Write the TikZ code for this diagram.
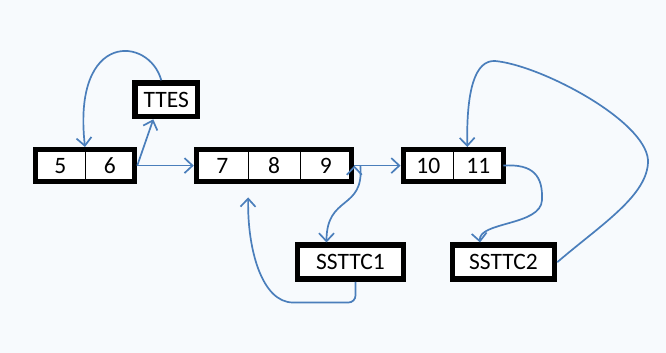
\documentclass[tikz,border=0pt]{standalone}
\usepackage{fontspec}
\setmainfont{Carlito}
\usetikzlibrary{positioning,fit,calc,arrows.meta}
\definecolor{linkblue}{RGB}{74,126,187}
\definecolor{paper}{RGB}{247,250,253}

\begin{document}
\begin{tikzpicture}[x=1pt,y=1pt,>={Straight Barb[length=8pt,width=15pt]},
                    font=\fontsize{23.5}{27}\selectfont,
                    cell/.style={rectangle,draw,fill=white,line width=0.8pt,minimum width=50pt,
                                 minimum height=31.7pt,inner sep=0pt,outer sep=0pt},
                    frame/.style={rectangle,draw,line width=5.5pt,inner sep=0pt},
                    label box/.style={frame,fill=white,minimum height=34pt},
                    link/.style={->,draw=linkblue,line width=1.7pt}
                   ]

  \fill[paper] (0,0) rectangle (666,353);

  % the three blocks of cells
  \node[cell,minimum width=49.5pt] (c5) at (60.25,187.4) {5};
  \node[cell,minimum width=49.5pt] (c6) [right=0pt of c5] {6};
  \node[frame,fit=(c5)(c6)] (b56) {};

  \node[cell,minimum width=51.7pt] (c7) [right=62pt of c6] {7};
  \node[cell,minimum width=51.7pt] (c8) [right=0pt of c7] {8};
  \node[cell,minimum width=51.7pt] (c9) [right=0pt of c8] {9};
  \node[frame,fit=(c7)(c9)] (b789) {};

  \node[cell] (c10) [right=51.7pt of c9] {10};
  \node[cell] (c11) [right=0pt of c10] {11};
  \node[frame,fit=(c10)(c11)] (b1011) {};

  % side boxes
  \node[label box,minimum width=62.5pt,minimum height=33.5pt] (ttes) at (166.3,253.2) {TTES};
  \node[label box,minimum width=106pt] (sttc1) at (350.5,90.8) {SSTTC1};
  \node[label box,minimum width=102pt] (sttc2) at (503.5,90.8) {SSTTC2};

  \coordinate (bend1) at (300,50.5);
  \coordinate (bend2) at (542,153);
  \coordinate (bend3) at (648,193);
  \coordinate (top3) at (495,292);

  \path[link] (b56.east) edge (b789.west)
              (b56.east) edge ([xshift=-13pt]ttes.south)
              (b789.east) edge (b1011.west);

  \draw[link] ([xshift=-5pt]ttes.north) .. controls +(-12,44) and +(-13,117) .. (b56.north);
  \draw[link] ([xshift=6pt]b789.east) .. controls +(4,-45) and +(0,48) .. ([xshift=-24pt]sttc1.north);
  \draw[link,rounded corners=7pt] ([xshift=5pt]sttc1.south) |- (bend1)
        .. controls +(-38,0) and +(-1,-52) .. ([yshift=-16pt]c7.south east);
  \draw[link] (c11.east) .. controls +(30,2) and +(1,24) .. (bend2)
        .. controls +(-1,-26) and +(-2,21) .. ([xshift=-23.5pt]sttc2.north);
  \draw[link] (sttc2.east) .. controls +(43,37) and +(1,-35) .. (bend3)
        .. controls +(-3,40) and +(45,-4) .. (top3)
        .. controls +(-20,1) and +(-1,57) .. ([xshift=14pt]b1011.north);
\end{tikzpicture}
\end{document}
